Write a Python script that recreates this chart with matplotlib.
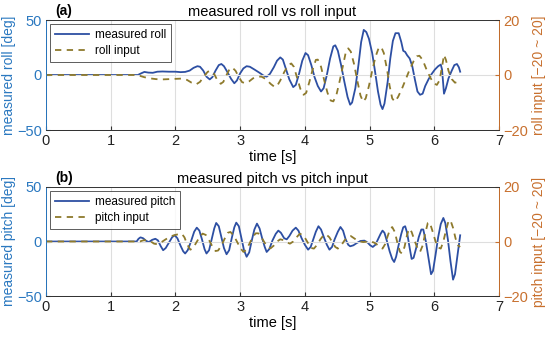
import numpy as np
import matplotlib
matplotlib.use("Agg")
import matplotlib.pyplot as plt

plt.rcParams["font.family"] = ["Liberation Sans", "DejaVu Sans"]
plt.rcParams["axes.unicode_minus"] = True

# ---- data ----
# (a) measured roll [deg]
roll_t = [0, 1.42, 1.47, 1.52, 1.58, 1.65, 1.72, 1.8, 1.9, 2.0, 2.08, 2.15, 2.22, 2.28,
          2.34, 2.38, 2.43, 2.48, 2.53, 2.57, 2.62, 2.67, 2.71, 2.75, 2.8, 2.86, 2.91,
          2.95, 3.0, 3.05, 3.1, 3.15, 3.22, 3.3, 3.36, 3.41, 3.46, 3.52, 3.57, 3.62,
          3.66, 3.71, 3.76, 3.82, 3.86, 3.91, 3.96, 4.01, 4.05, 4.1, 4.15, 4.2, 4.25,
          4.29, 4.34, 4.39, 4.44, 4.47, 4.51, 4.56, 4.61, 4.66, 4.70, 4.73, 4.78, 4.83,
          4.87, 4.91, 4.95, 4.99, 5.04, 5.08, 5.13, 5.17, 5.20, 5.23, 5.28, 5.32, 5.36,
          5.40, 5.45, 5.49, 5.52, 5.55, 5.58, 5.62, 5.66, 5.7, 5.74, 5.78, 5.82, 5.86,
          5.91, 5.96, 6.01, 6.06, 6.1, 6.12, 6.15, 6.18, 6.22, 6.27, 6.31, 6.35, 6.38,
          6.40]
roll_meas = [0, 0, 1.5, 2.8, 2.2, 2, 3, 3.2, 3, 3, 2.6, 2.8, 4, 6.5,
             8, 7.5, 4, -1.5, -4, -2, 4, 9, 10, 8, 3, -3.5, -7.5,
             -5, 1.5, 6, 8, 7.5, 5, 2, -0.5, -1.5, 1, 7, 13, 16,
             14, 5, -4, -11, -9, 1, 13, 20, 18, 9, -2, -10, -15,
             -12, 0, 15, 26, 27, 22, 9, -6, -20, -27, -25, -12, 10,
             30, 41, 39, 33, 20, 5, -15, -27, -31, -26, -6, 15, 31,
             38, 38, 30, 22, 21, 18, 15, 8, -4, -15, -18, -17, -10,
             -4, 1, 5, 8, 9.5, 5, -17, -12, -3, 4, 9, 10, 7,
             3]

# (a) roll input [-20 ~ 20]
rin_t = [0, 1.4, 1.45, 1.52, 1.6, 1.7, 1.8, 1.9, 2.0, 2.1, 2.18, 2.25, 2.32, 2.38,
         2.44, 2.5, 2.55, 2.6, 2.65, 2.70, 2.74, 2.79, 2.84, 2.88, 2.93, 2.98, 3.03,
         3.08, 3.14, 3.2, 3.27, 3.33, 3.4, 3.47, 3.53, 3.57, 3.62, 3.68, 3.74, 3.79,
         3.83, 3.88, 3.93, 3.98, 4.02, 4.07, 4.12, 4.17, 4.2, 4.25, 4.3, 4.35, 4.4,
         4.44, 4.49, 4.54, 4.59, 4.63, 4.67, 4.71, 4.76, 4.81, 4.86, 4.9, 4.94, 4.99,
         5.04, 5.09, 5.14, 5.18, 5.22, 5.27, 5.31, 5.35, 5.39, 5.44, 5.5, 5.56, 5.62,
         5.68, 5.73, 5.77, 5.82, 5.88, 5.94, 5.99, 6.04, 6.08, 6.12, 6.15, 6.18, 6.22,
         6.27, 6.32, 6.36, 6.40]
roll_in = [0, 0, -0.3, -0.8, -1.2, -1.5, -1.6, -1.5, -1.4, -1.3, -1.8, -2.8, -3.4, -2.5,
           -0.5, 1.2, 1.5, 0.3, -2, -3.2, -2.5, 0, 2.3, 2.7, 1.5, -0.8, -2.6,
           -3, -2.3, -1.2, -0.6, -0.6, -1.5, -3.2, -4.3, -4, -2, 1, 3.5, 4.2,
           3, -1, -5, -7.2, -6.5, -2.5, 2, 5.5, 5.6, 3, -2, -6.5, -9.3,
           -9.6, -7, -2, 3.5, 8, 9.7, 8.5, 4, -2, -7.5, -9.7, -8.5, -4,
           1.5, 6.5, 9.8, 10.2, 8, 2, -4, -8.5, -9.7, -8, -5, -1.5, 2,
           5, 6.8, 7, 5.5, 2, -1, -3, -3.6, -2, 3, 7.3, 5.5, 1.5,
           -1.5, -2.8, -2.5, -1.5]

# (b) measured pitch [deg]
pitch_t = [0, 1.40, 1.43, 1.46, 1.5, 1.55, 1.59, 1.64, 1.69, 1.73, 1.77, 1.81, 1.85, 1.9,
           1.95, 1.99, 2.03, 2.08, 2.12, 2.15, 2.19, 2.24, 2.29, 2.33, 2.37, 2.41, 2.45,
           2.48, 2.52, 2.56, 2.6, 2.63, 2.67, 2.71, 2.75, 2.79, 2.83, 2.87, 2.91, 2.94,
           2.98, 3.02, 3.06, 3.10, 3.14, 3.18, 3.22, 3.26, 3.3, 3.34, 3.38, 3.41, 3.45,
           3.5, 3.55, 3.59, 3.63, 3.68, 3.72, 3.76, 3.81, 3.86, 3.9, 3.95, 4.0, 4.05,
           4.09, 4.13, 4.17, 4.21, 4.25, 4.3, 4.34, 4.38, 4.42, 4.46, 4.51, 4.55, 4.59,
           4.63, 4.67, 4.70, 4.75, 4.8, 4.86, 4.92, 4.97, 5.01, 5.05, 5.09, 5.13, 5.17,
           5.20, 5.23, 5.27, 5.31, 5.35, 5.38, 5.41, 5.45, 5.49, 5.52, 5.55, 5.58, 5.62,
           5.65, 5.68, 5.72, 5.76, 5.8, 5.83, 5.87, 5.91, 5.95, 5.98, 6.02, 6.06, 6.1,
           6.14, 6.17, 6.21, 6.25, 6.29, 6.32, 6.36, 6.40]
pitch_meas = [0, 0, 2.5, 3.8, 3, 0.5, -0.5, 1.5, 2.5, 1, -4, -8, -6, -1,
              4, 5.7, 3, -4, -9, -11, -8, 0, 9, 12.7, 10, 2, -7,
              -11, -8, 2, 12, 17, 14, 4, -6, -11.7, -8, 3, 13, 17.3,
              14, 3, -8, -14, -10, 1, 11, 16.4, 12, 3, -5, -9.6, -7,
              1, 7, 10, 8, 3, 2, 5, 10, 12.7, 10, 3, -3, -7.5,
              -5, 2, 9, 14, 11, 3, -3, -7.5, -5, 2, 9, 13.3, 10,
              2, -3, -4.4, -3.5, -1.5, 0.5, 0.8, -1, -3.5, -5, -3, 2, 7,
              10, 8, 0, -9, -16, -18.8, -14, -3, 7, 13, 14, 8, -6,
              -16, -15, -6, 4, 11, 11, 0, -15, -30, -27, -12, 4, 16,
              21.6, 17, 2, -18, -35, -30, -12, 5.7]

# (b) pitch input [-20 ~ 20]
pin_t = [0, 1.45, 1.5, 1.56, 1.62, 1.67, 1.72, 1.78, 1.85, 1.92, 1.98, 2.05, 2.1, 2.14,
         2.18, 2.23, 2.27, 2.32, 2.37, 2.42, 2.47, 2.52, 2.57, 2.62, 2.66, 2.71, 2.76,
         2.81, 2.85, 2.9, 2.95, 3.0, 3.05, 3.09, 3.14, 3.19, 3.24, 3.28, 3.33, 3.38,
         3.43, 3.47, 3.52, 3.57, 3.62, 3.67, 3.72, 3.77, 3.82, 3.87, 3.92, 3.96, 4.01,
         4.06, 4.1, 4.14, 4.19, 4.24, 4.29, 4.33, 4.38, 4.43, 4.47, 4.51, 4.56, 4.61,
         4.66, 4.71, 4.76, 4.82, 4.9, 5.0, 5.06, 5.1, 5.15, 5.2, 5.24, 5.28, 5.32,
         5.35, 5.39, 5.43, 5.47, 5.5, 5.54, 5.58, 5.61, 5.65, 5.7, 5.75, 5.78, 5.82,
         5.86, 5.9, 5.93, 5.97, 6.02, 6.06, 6.1, 6.14, 6.18, 6.22, 6.25, 6.29, 6.33,
         6.37, 6.40]
pitch_in = [0, 0, 0.4, 0.5, 0, -0.8, -1, -0.3, 0.8, 1.8, 2.3, 2.7, 2.8, 1.5,
            -1, -3, -2.5, -0.5, 1.5, 2.9, 2.4, 0.5, -1.8, -3.5, -3.3, -1.5, 1,
            3.2, 3.5, 2.2, 0, -2.3, -3.8, -3.2, -1, 1.5, 3, 3, 1.5, -0.5,
            -2.2, -2.5, -1.5, 0, 0.8, 0.5, -0.3, -0.8, 0, 1.5, 2.8, 2.6, 1,
            -1, -2.4, -2.6, -1.2, 0.8, 2.3, 2.6, 1.5, -0.5, -2, -2.6, -1.5, 0.3,
            1.7, 2, 1.2, 0.2, -0.2, 0, -0.3, -0.8, -2, -2.6, -1, 2, 4.7,
            5.3, 3.5, -0.5, -3.8, -4.4, -2, 2.5, 4.7, 3.5, 0, -3, -3.8, -1.5,
            3, 6.8, 7, 4, 0, -2.2, -2.6, 0, 4, 7.5, 7.8, 5, 1,
            -1.5, -2]

panels = [
    ("(a)", "measured roll vs roll input", roll_t, roll_meas, rin_t, roll_in,
     "measured roll", "roll input", "measured roll [deg]", "roll input [\u221220 ~ 20]"),
    ("(b)", "measured pitch vs pitch input", pitch_t, pitch_meas, pin_t, pitch_in,
     "measured pitch", "pitch input", "measured pitch [deg]", "pitch input [\u221220 ~ 20]"),
]

line_blue = "#2D4FA3"
line_olive = "#8E7A2C"
ax_blue = "#2A78C0"
ax_orange = "#C8702E"
fs = 10.5

fig = plt.figure(figsize=(5.5, 3.41), dpi=100)
boxes = [[46 / 550, 1 - 130 / 341, 453 / 550, 110 / 341],
         [46 / 550, 1 - 296 / 341, 453 / 550, 109 / 341]]

for box, (tag, title, mt, mv, it, iv, lab1, lab2, ylab, ylab2) in zip(boxes, panels):
    ax = fig.add_axes(box)
    ax2 = ax.twinx()
    h1, = ax.plot(mt, mv, color=line_blue, lw=1.3, label=lab1)
    h2, = ax2.plot(it, iv, color=line_olive, lw=1.3, ls=(0, (3.5, 3)), label=lab2)

    ax.set_xlim(0, 7)
    ax.set_ylim(-50, 50)
    ax2.set_ylim(-20, 20)
    ax.set_xticks(range(8))
    ax.set_yticks([-50, 0, 50])
    ax2.set_yticks([-20, 0, 20])
    ax.grid(axis="x", color="#dedede", lw=0.8)
    ax2.grid(axis="y", color="#dedede", lw=0.8)
    ax.set_axisbelow(True)

    ax.tick_params(axis="both", direction="in", length=3, labelsize=fs, pad=3)
    ax.tick_params(axis="y", colors=ax_blue, labelcolor=ax_blue)
    ax.tick_params(axis="x", colors="#333333", labelcolor="#222222")
    ax2.tick_params(axis="y", direction="in", length=3, labelsize=fs,
                    colors=ax_orange, labelcolor=ax_orange, pad=3)
    for s in ["top", "bottom"]:
        ax.spines[s].set_color("#333333")
        ax2.spines[s].set_color("#333333")
    ax2.spines["left"].set_color(ax_blue)
    ax2.spines["right"].set_color(ax_orange)
    for sp in list(ax.spines.values()) + list(ax2.spines.values()):
        sp.set_linewidth(0.7)

    ax.set_ylabel(ylab, color=ax_blue, fontsize=10, labelpad=1)
    ax2.set_ylabel(ylab2, color=ax_orange, fontsize=10, labelpad=3)
    ax.set_xlabel("time [s]", fontsize=fs, labelpad=1)
    ax.set_title(title, fontsize=fs, pad=3)
    ax.text(0.02, 1.015, tag, transform=ax.transAxes, fontsize=10,
            fontweight="bold", va="bottom", ha="left")

    leg = ax2.legend([h1, h2], [lab1, lab2], loc="upper left", fontsize=8.5,
                     frameon=True, fancybox=False, edgecolor="#333333",
                     handlelength=2.9, borderaxespad=0.35, labelspacing=0.35,
                     borderpad=0.4, handletextpad=0.5)
    leg.get_frame().set_linewidth(0.7)

fig.savefig("out.png", dpi=100)
